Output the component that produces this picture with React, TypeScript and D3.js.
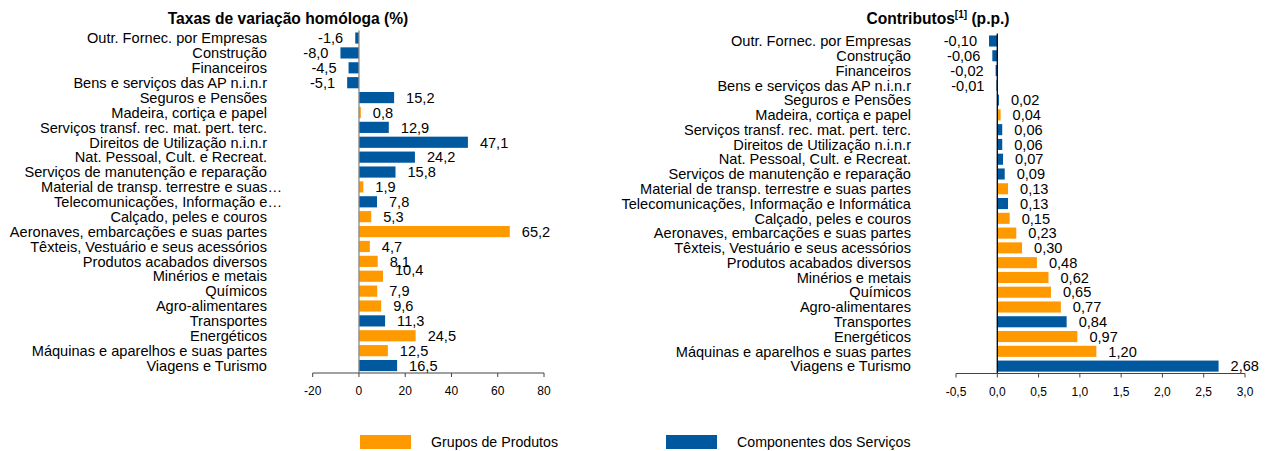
import React from "react";
import * as d3 from "d3";

const ORANGE = "#FF9900";
const BLUE = "#00589F";

const leftCategories = [
  "Outr. Fornec. por Empresas",
  "Construção",
  "Financeiros",
  "Bens e serviços das AP n.i.n.r",
  "Seguros e Pensões",
  "Madeira, cortiça e papel",
  "Serviços transf. rec. mat. pert. terc.",
  "Direitos de Utilização n.i.n.r",
  "Nat. Pessoal, Cult. e Recreat.",
  "Serviços de manutenção e reparação",
  "Material de transp. terrestre e suas…",
  "Telecomunicações, Informação e…",
  "Calçado, peles e couros",
  "Aeronaves, embarcações e suas partes",
  "Têxteis, Vestuário e seus acessórios",
  "Produtos acabados diversos",
  "Minérios e metais",
  "Químicos",
  "Agro-alimentares",
  "Transportes",
  "Energéticos",
  "Máquinas e aparelhos e suas partes",
  "Viagens e Turismo",
];

const rightCategories = [
  "Outr. Fornec. por Empresas",
  "Construção",
  "Financeiros",
  "Bens e serviços das AP n.i.n.r",
  "Seguros e Pensões",
  "Madeira, cortiça e papel",
  "Serviços transf. rec. mat. pert. terc.",
  "Direitos de Utilização n.i.n.r",
  "Nat. Pessoal, Cult. e Recreat.",
  "Serviços de manutenção e reparação",
  "Material de transp. terrestre e suas partes",
  "Telecomunicações, Informação e Informática",
  "Calçado, peles e couros",
  "Aeronaves, embarcações e suas partes",
  "Têxteis, Vestuário e seus acessórios",
  "Produtos acabados diversos",
  "Minérios e metais",
  "Químicos",
  "Agro-alimentares",
  "Transportes",
  "Energéticos",
  "Máquinas e aparelhos e suas partes",
  "Viagens e Turismo",
];

// "P" = Grupos de Produtos, "S" = Componentes dos Serviços
const groups = ["S","S","S","S","S","P","S","S","S","S","P","S","P","P","P","P","P","P","P","S","P","P","S"];

const taxas = [-1.6, -8.0, -4.5, -5.1, 15.2, 0.8, 12.9, 47.1, 24.2, 15.8, 1.9, 7.8, 5.3, 65.2, 4.7, 8.1, 10.4, 7.9, 9.6, 11.3, 24.5, 12.5, 16.5];
const contributos = [-0.10, -0.06, -0.02, -0.01, 0.02, 0.04, 0.06, 0.06, 0.07, 0.09, 0.13, 0.13, 0.15, 0.23, 0.30, 0.48, 0.62, 0.65, 0.77, 0.84, 0.97, 1.20, 2.68];

const leftTicks = [-20, 0, 20, 40, 60, 80];
const rightTicks = [-0.5, 0, 0.5, 1.0, 1.5, 2.0, 2.5, 3.0];

const legendItems = [
  { key: "P", label: "Grupos de Produtos" },
  { key: "S", label: "Componentes dos Serviços" },
];

const FONT = "'Liberation Sans', Arial, Helvetica, sans-serif";
const fmt1 = (v: number) => v.toFixed(1).replace(".", ",");
const fmt2 = (v: number) => v.toFixed(2).replace(".", ",");

type PanelProps = {
  cats: string[];
  values: number[];
  domain: [number, number];
  xRange: [number, number];
  yRange: [number, number];
  ticks: number[];
  tickFmt: (v: number) => string;
  valFmt: (v: number) => string;
  labelX: number;
  zeroColor: string;
  labelShift?: Record<number, number>;
};

function Panel(p: PanelProps) {
  const x = d3.scaleLinear().domain(p.domain).range(p.xRange);
  const y = d3.scaleBand<number>().domain(d3.range(p.cats.length)).range(p.yRange).paddingInner(0.25).paddingOuter(0.125);
  const band = y.bandwidth();
  const x0 = x(0);
  const axisY = p.yRange[1];
  return (
    <g>
      {p.cats.map((c, i) => {
        const cy = (y(i) as number) + band / 2;
        const truncated = c.endsWith("…");
        return (
          <text key={"l" + i} x={p.labelX + (truncated ? 15 : 0)} y={cy} dy="0.36em" textAnchor="end" fontSize={14.6} fill="#000">
            {c}
          </text>
        );
      })}
      {p.values.map((v, i) => {
        const xa = x(Math.min(0, v));
        const xb = x(Math.max(0, v));
        return (
          <rect key={"b" + i} x={xa} y={y(i) as number} width={Math.max(0.8, xb - xa)} height={band} fill={groups[i] === "P" ? ORANGE : BLUE} />
        );
      })}
      {p.values.map((v, i) => {
        const cy = (y(i) as number) + band / 2 + (p.labelShift?.[i] ?? 0);
        const end = x(v);
        return (
          <text key={"v" + i} x={v < 0 ? end - 12 : end + 12} y={cy} dy="0.36em" textAnchor={v < 0 ? "end" : "start"} fontSize={14.6} fill="#000">
            {p.valFmt(v)}
          </text>
        );
      })}
      <line x1={x0} x2={x0} y1={p.yRange[0]} y2={axisY} stroke={p.zeroColor} strokeWidth={1.3} />
      <line x1={p.xRange[0]} x2={p.xRange[1]} y1={axisY} y2={axisY} stroke="#444" strokeWidth={1} />
      {p.ticks.map((t) => (
        <g key={"t" + t}>
          <line x1={x(t)} x2={x(t)} y1={axisY} y2={axisY + 4} stroke="#444" strokeWidth={1} />
          <text x={x(t)} y={axisY + 18} dy="0.36em" textAnchor="middle" fontSize={12} fill="#000">
            {p.tickFmt(t)}
          </text>
        </g>
      ))}
    </g>
  );
}

export default function App() {
  return (
    <svg width={1270} height={451} style={{ position: "absolute", left: 0, top: 0, fontFamily: FONT }}>
      <rect width={1270} height={451} fill="#fff" />
      <text x={288} y={24} textAnchor="middle" fontSize={15.6} fontWeight="bold">
        Taxas de variação homóloga (%)
      </text>
      <text x={938} y={24} textAnchor="middle" fontSize={15.6} fontWeight="bold">
        Contributos
        <tspan fontSize={10} dy={-6}>[1]</tspan>
        <tspan dy={6}> (p.p.)</tspan>
      </text>
      <Panel
        cats={leftCategories}
        values={taxas}
        domain={[-20, 80]}
        xRange={[312.7, 544]}
        yRange={[30.6, 373]}
        ticks={leftTicks}
        tickFmt={(t) => String(t)}
        valFmt={fmt1}
        labelX={267}
        zeroColor="#8a8a8a"
        labelShift={{ 16: -6 }}
      />
      <Panel
        cats={rightCategories}
        values={contributos}
        domain={[-0.5, 3.0]}
        xRange={[956, 1245]}
        yRange={[33.6, 373.5]}
        ticks={rightTicks}
        tickFmt={(t) => t.toFixed(1).replace(".", ",")}
        valFmt={fmt2}
        labelX={911}
        zeroColor="#000"
      />
      {legendItems.map((it, i) => {
        const lx = i === 0 ? 360 : 666;
        return (
          <g key={it.key}>
            <rect x={lx} y={435} width={51} height={14} fill={it.key === "P" ? ORANGE : BLUE} />
            <text x={lx + 71} y={442} dy="0.36em" fontSize={14.2} fill="#000">
              {it.label}
            </text>
          </g>
        );
      })}
    </svg>
  );
}
